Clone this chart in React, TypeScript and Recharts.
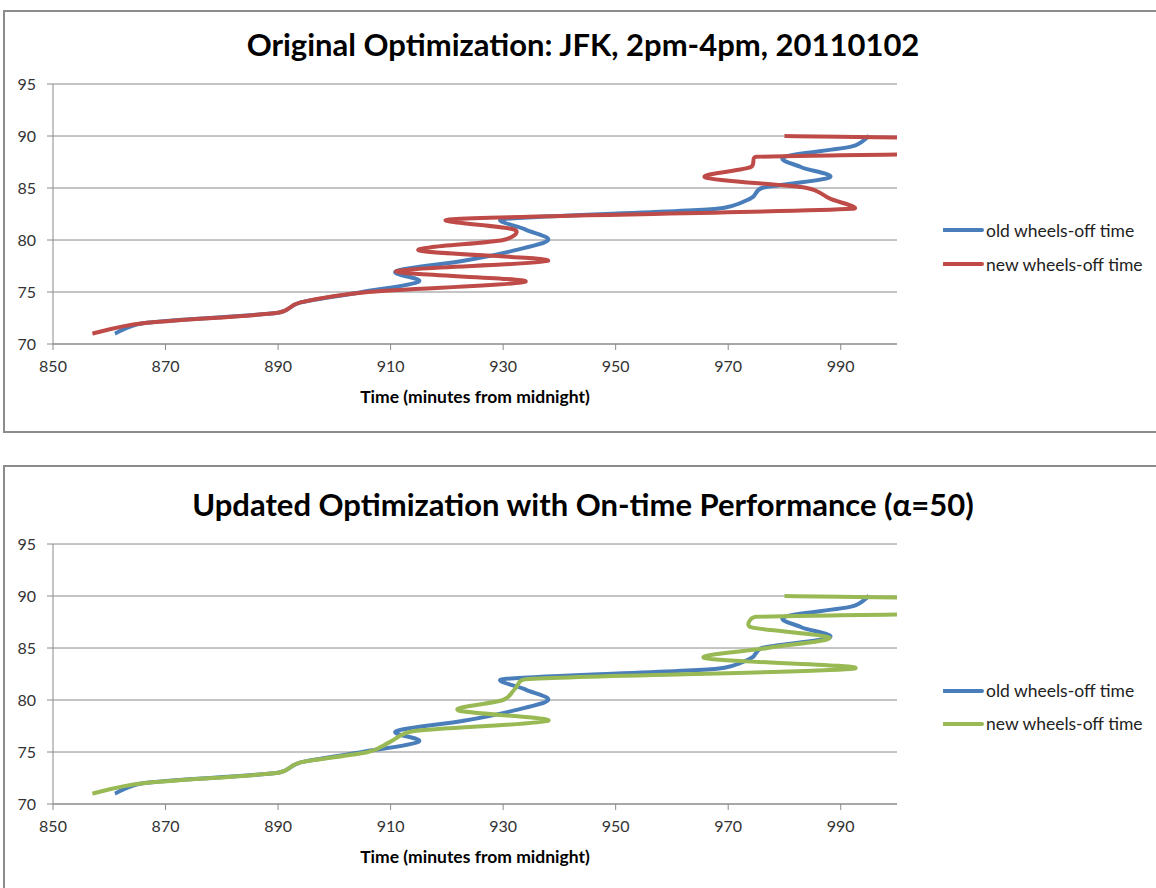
import React from 'react';
import { LineChart, Line, XAxis, YAxis, CartesianGrid, Legend } from 'recharts';

// flight index (y) and wheels-off times (x, minutes from midnight)
const flightIndex = [71, 72, 73, 74, 75, 76, 77, 78, 79, 80, 81, 82, 83, 84, 85, 86, 87, 88, 89, 90];
const oldWheelsOff = [861, 866, 890, 894, 905, 915, 911, 923, 932, 938, 934, 930, 968, 974, 976, 988, 983, 980, 992, 995];
const newWheelsOffOriginal = [857, 866, 890, 894, 906, 934, 911, 938, 915, 930, 932, 921, 992, 988, 984, 966, 974, 975, 1100, 980];
const newWheelsOffUpdated = [857, 866, 890, 894, 906, 910, 914, 938, 922, 930, 932, 934, 992, 966, 977, 988, 974, 975, 1100, 980];

const xTicks = [850, 870, 890, 910, 930, 950, 970, 990];
const yTicks = [70, 75, 80, 85, 90, 95];

const seriesNames = ['old wheels-off time', 'new wheels-off time'];
const titles = ['Original Optimization: JFK, 2pm-4pm, 20110102', 'Updated Optimization with On-time Performance (\u03b1=50)'];
const xTitle = 'Time (minutes from midnight)';

const BLUE = '#4A7EBB';
const RED = '#BE4B48';
const GREEN = '#98B954';
const GRID = '#8a8a8a';
const FONT = 'Lato, "Open Sans", sans-serif';

const toSeries = (times: number[]) => times.map((t, i) => ({ x: t, y: flightIndex[i] }));

const dist = (a: number[], b: number[]) => Math.hypot(a[0] - b[0], a[1] - b[1]);

// Excel-like smoothed scatter line: Catmull-Rom Bezier with handles clamped to half the segment
const excelSmooth: any = (context: any) => {
  let pts: number[][] = [];
  return {
    areaStart() {},
    areaEnd() {},
    lineStart() {
      pts = [];
    },
    point(x: number, y: number) {
      pts.push([+x, +y]);
    },
    lineEnd() {
      const n = pts.length;
      if (n === 0) return;
      context.moveTo(pts[0][0], pts[0][1]);
      if (n === 1) return;
      for (let i = 0; i < n - 1; i++) {
        const p0 = i > 0 ? pts[i - 1] : pts[i];
        const p1 = pts[i];
        const p2 = pts[i + 1];
        const p3 = i + 2 < n ? pts[i + 2] : p2;
        const d12 = dist(p1, p2);
        const d02 = dist(p0, p2);
        const d13 = dist(p1, p3);
        let f1 = 1 / 6;
        let f2 = 1 / 6;
        if (d02 / 6 > d12 / 2 && d02 > 0) f1 = d12 / 2 / d02;
        if (d13 / 6 > d12 / 2 && d13 > 0) f2 = d12 / 2 / d13;
        context.bezierCurveTo(
          p1[0] + (p2[0] - p0[0]) * f1,
          p1[1] + (p2[1] - p0[1]) * f1,
          p2[0] - (p3[0] - p1[0]) * f2,
          p2[1] - (p3[1] - p1[1]) * f2,
          p2[0],
          p2[1]
        );
      }
    },
  };
};

const LegendBox = (props: any) => {
  const payload = [...(props.payload || [])].sort(
    (a: any, b: any) => seriesNames.indexOf(a.value) - seriesNames.indexOf(b.value)
  );
  return (
    <div style={{ fontFamily: FONT, fontSize: 17.5, color: '#222' }}>
      {payload.map((p: any) => (
        <div key={p.value} style={{ display: 'flex', alignItems: 'center', height: props.rowHeight }}>
          <svg width={41} height={8} style={{ marginRight: 2 }}>
            <line x1={1} y1={4} x2={39} y2={4} stroke={p.color} strokeWidth={4} strokeLinecap="round" />
          </svg>
          <span>{p.value}</span>
        </div>
      ))}
    </div>
  );
};

type PanelProps = {
  top: number;
  borderTop: number;
  title: string;
  newTimes: number[];
  newColor: string;
  legendTop: number;
  rowHeight: number;
};

const Panel = ({ top, borderTop, title, newTimes, newColor, legendTop, rowHeight }: PanelProps) => {
  const oldData = toSeries(oldWheelsOff);
  const newData = toSeries(newTimes);
  return (
    <div style={{ position: 'absolute', left: 0, top, width: 1156, height: 440 }}>
      <div
        style={{
          position: 'absolute',
          left: 3,
          top: borderTop,
          width: 1200,
          height: 433 - borderTop,
          border: '2px solid #8c8c8c',
          boxSizing: 'border-box',
        }}
      />
      <div
        style={{
          position: 'absolute',
          left: 0,
          width: 1166,
          top: 23,
          textAlign: 'center',
          fontFamily: FONT,
          fontWeight: 700,
          fontSize: 31,
          lineHeight: '42px',
          color: '#000',
        }}
      >
        {title}
      </div>
      <div style={{ position: 'absolute', left: 0, top: 0 }}>
        <LineChart width={1156} height={440} margin={{ top: 84, right: 259, bottom: 37, left: 8 }}>
          <CartesianGrid horizontal vertical={false} stroke={GRID} strokeWidth={1} />
          <XAxis
            type="number"
            dataKey="x"
            domain={[850, 1000]}
            ticks={xTicks}
            allowDataOverflow
            height={59}
            tickSize={6}
            tickMargin={11}
            stroke={GRID}
            tick={{ fill: '#333', fontSize: 16, fontFamily: FONT }}
            label={{
              value: xTitle,
              position: 'insideBottom',
              offset: 0,
              style: { fill: '#000', fontSize: 17.5, fontWeight: 700, fontFamily: FONT },
            }}
          />
          <YAxis
            type="number"
            dataKey="y"
            domain={[70, 95]}
            ticks={yTicks}
            allowDataOverflow
            width={45}
            tickSize={6}
            tickMargin={11}
            stroke={GRID}
            tick={{ fill: '#333', fontSize: 16, fontFamily: FONT }}
          />
          <Legend
            layout="horizontal"
            align="center"
            verticalAlign="middle"
            wrapperStyle={{ left: 943, top: legendTop, width: 213 }}
            content={(p: any) => <LegendBox {...p} rowHeight={rowHeight} />}
          />
          <Line
            data={oldData}
            dataKey="y"
            name={seriesNames[0]}
            stroke={BLUE}
            strokeWidth={4}
            type={excelSmooth}
            dot={false}
            activeDot={false}
            legendType="plainline"
            isAnimationActive={false}
          />
          <Line
            data={newData}
            dataKey="y"
            name={seriesNames[1]}
            stroke={newColor}
            strokeWidth={4}
            type={excelSmooth}
            dot={false}
            activeDot={false}
            legendType="plainline"
            isAnimationActive={false}
          />
        </LineChart>
      </div>
    </div>
  );
};

export default function App() {
  return (
    <div
      style={{
        position: 'absolute',
        left: 0,
        top: 0,
        width: 1156,
        height: 888,
        overflow: 'hidden',
        background: '#fff',
      }}
    >
      <Panel top={0} borderTop={10} title={titles[0]} newTimes={newWheelsOffOriginal} newColor={RED} legendTop={213} rowHeight={34} />
      <Panel top={460} borderTop={5} title={titles[1]} newTimes={newWheelsOffUpdated} newColor={GREEN} legendTop={214} rowHeight={33} />
    </div>
  );
}
